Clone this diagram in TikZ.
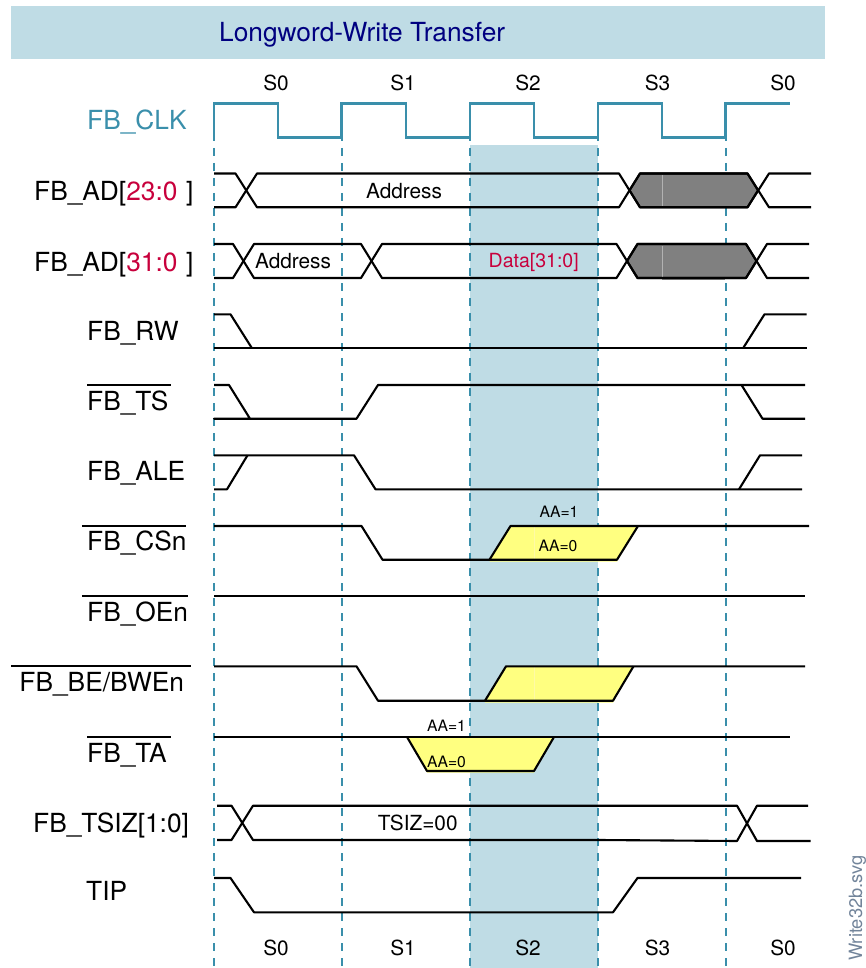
\documentclass[tikz,border=0pt]{standalone}
\usepackage{fontspec}
\setmainfont{TeX Gyre Heros}
\definecolor{clkblue}{HTML}{3A8FAB}
\definecolor{bandblue}{HTML}{BFDCE5}
\definecolor{titleblue}{HTML}{000080}
\definecolor{adred}{HTML}{C8003C}
\definecolor{aayellow}{HTML}{FFFF80}
\definecolor{filegray}{HTML}{72849A}
\usetikzlibrary{arrows.meta,positioning}

\begin{document}
\begin{tikzpicture}[
x=1pt,y=-1pt,
sig/.style={anchor=base west,inner sep=0pt,font=\fontsize{26.3}{30}\selectfont},
state/.style={anchor=base,inner sep=0pt,font=\fontsize{20.8}{24}\selectfont},
small/.style={anchor=base,inner sep=0pt,font=\fontsize{15.7}{18}\selectfont},
wave/.style={draw=black,line width=2.1pt,line join=round},
clk/.style={draw=clkblue,line width=2.3pt},
grid/.style={draw=clkblue,line width=2pt,dash pattern=on 8pt off 7pt},
busy/.style={fill=black!50,draw=black,line width=2.1pt,line join=round},
wait/.style={fill=aayellow}
]
\useasboundingbox (0,0) rectangle (866,968);
\fill[bandblue] (11,6) rectangle (825,59);
\fill[bandblue] (470,145) rectangle (598,968);
\node[sig,text=titleblue] (title) at (219,42) {Longword-Write Transfer};
\foreach \x in {214,341.5,470,598,725.5}
\draw[grid] (\x,133) -- (\x,968);
\draw[clk] (214,137.5) -- (214,103.5) -- (278,103.5) -- (278,137.5) -- (341.5,137.5)
-- (341.5,103.5) -- (406,103.5) -- (406,137.5) -- (470,137.5) -- (470,103.5)
-- (534,103.5) -- (534,137.5) -- (598,137.5) -- (598,103.5) -- (662,103.5)
-- (662,137.5) -- (725.5,137.5) -- (725.5,103.5) -- (789.5,103.5);
\foreach \n/\x/\t in {a/276/S0,b/403/S1,c/528/S2,d/657.5/S3,e/783/S0} {
\node[state] (top\n) at (\x,90.7) {\t};
\node[state] (bot\n) at (\x,955) {\t};
}
\node[sig,text=clkblue] (fbclk) at (87,129.3) {FB\_CLK};
\foreach \n/\x/\y/\t in {
adl/34/201/{FB\_AD[\textcolor{adred}{23:0}\,\,]},
adh/34/271.7/{FB\_AD[\textcolor{adred}{31:0}\,\,]},
rw/87/340/{FB\_RW},
ts/87/410/{FB\_TS},
ale/87/480.3/{FB\_ALE},
cs/87/550.7/{FB\_CSn},
oe/87/621.7/{FB\_OEn},
be/19.3/691.7/{FB\_BE/BWEn},
ta/87/762/{FB\_TA},
tsiz/33/832.7/{FB\_TSIZ[1:0]},
tip/86/900/{TIP}}
\node[sig] (\n) at (\x,\y) {\t};
\foreach \xa/\xb/\y in {87/171/385,81.8/185.6/526,81.8/187.8/596,11/190.6/666.3,87/171/737}
\draw[wave] (\xa,\y) -- (\xb,\y);

\path[busy] (629.5,190.3) -- (640,173.5) -- (747.5,173.5) -- (758,190.3) -- (747.5,207.3) -- (640,207.3) -- cycle;
\path[busy] (627,261) -- (637.5,244) -- (746,244) -- (756.5,261) -- (746,278) -- (637.5,278) -- cycle;
\fill[black!50] (662,278) rectangle (725,280);
\draw[black!30,line width=.6pt] (662,175) -- (662,206);
\draw[black!30,line width=.6pt] (662,245.5) -- (662,277);
\draw[wave] (214,173.5) -- (235.5,173.5) -- (257,207.3) -- (619,207.3) -- (640,173.5) -- (747.5,173.5) -- (769,207.3) -- (811,207.3);
\draw[wave] (214,207.3) -- (235.5,207.3) -- (257,173.5) -- (619,173.5) -- (640,207.3) -- (747.5,207.3) -- (769,173.5) -- (811,173.5);
\draw[wave] (214,244) -- (233,244) -- (254,278) -- (361,278) -- (382,244) -- (616.5,244) -- (637.5,278) -- (746,278) -- (767,244) -- (809,244);
\draw[wave] (214,278) -- (233,278) -- (254,244) -- (361,244) -- (382,278) -- (616.5,278) -- (637.5,244) -- (746,244) -- (767,278) -- (809,278);

\draw[wave] (214,314.3) -- (230.5,314.3) -- (252,348.3);
\draw[wave] (214,348.3) -- (806.5,348.3);
\draw[wave] (743,348.3) -- (764.5,314.3) -- (806.5,314.3);

\draw[wave] (214,385) -- (229,385) -- (250,418.7) -- (214,418.7) -- (356.5,418.7) -- (378,385) -- (805,385);
\draw[wave] (741.5,385) -- (762.5,418.7) -- (805,418.7);

\draw[wave] (214,489.3) -- (227,489.3) -- (247.5,455.3);
\draw[wave] (214,455.3) -- (354,455.3) -- (375.5,489.3) -- (802,489.3);
\draw[wave] (739,489.3) -- (760,455.3) -- (802,455.3);

\fill[wait] (489.5,561.5) -- (510.5,526) -- (638,526) -- (617,561.5) -- cycle;
\draw[yellow!35!white,line width=.5pt] (534,527) -- (534,559);
\draw[wave] (214,526) -- (361.5,526) -- (382.5,559.7) -- (617,559.7) -- (638,526);
\draw[wave] (489.5,559.7) -- (510.5,526) -- (809,526);
\node[small] (csone) at (559,517) {AA=1};
\node[small] (cszero) at (558,551) {AA=0};

\draw[wave] (214,596) -- (805,596);

\fill[wait] (485,702.5) -- (506,666.3) -- (633.5,666.3) -- (613,702.5) -- cycle;
\draw[yellow!35!white,line width=.5pt] (534,667) -- (534,700);
\draw[wave] (214,666.3) -- (356.5,666.3) -- (378,700.7) -- (613,700.7) -- (633.5,666.3);
\draw[wave] (485,700.7) -- (506,666.3) -- (805,666.3);

\fill[wait] (407,737) -- (427,772.5) -- (534,772.5) -- (554,737) -- cycle;
\draw[wave] (214,737) -- (789.5,737);
\draw[wave] (407,737) -- (427,771) -- (534,771) -- (554,737);
\node[small] (taone) at (446.5,731) {AA=1};
\node[small] (tazero) at (446.5,767) {AA=0};

\draw[wave] (217,805.7) -- (231.5,805.7) -- (253,840) -- (600,840) -- (737,841) -- (757,805.7) -- (808,805.7);
\draw[wave] (217,840) -- (231.5,840) -- (253,805.7) -- (737,805.7) -- (757,841) -- (810.5,841);

\draw[wave] (214,878) -- (230.5,878) -- (254,912.3) -- (613,912.3) -- (637.5,878) -- (801,878);

\node[state] (addra) at (404,199) {Address};
\node[state] (addrb) at (293,268.3) {Address};
\node[anchor=base,inner sep=0pt,font=\fontsize{19.5}{23}\selectfont,text=adred] (data) at (533.7,267.3) {Data[31:0]};
\node[state] (tsizval) at (417.7,830.7) {TSIZ=00};
\node[anchor=base west,inner sep=0pt,rotate=90,text=filegray,font=\fontsize{18.3}{22}\selectfont] (file) at (862,961) {Write32b.svg};
\end{tikzpicture}
\end{document}
